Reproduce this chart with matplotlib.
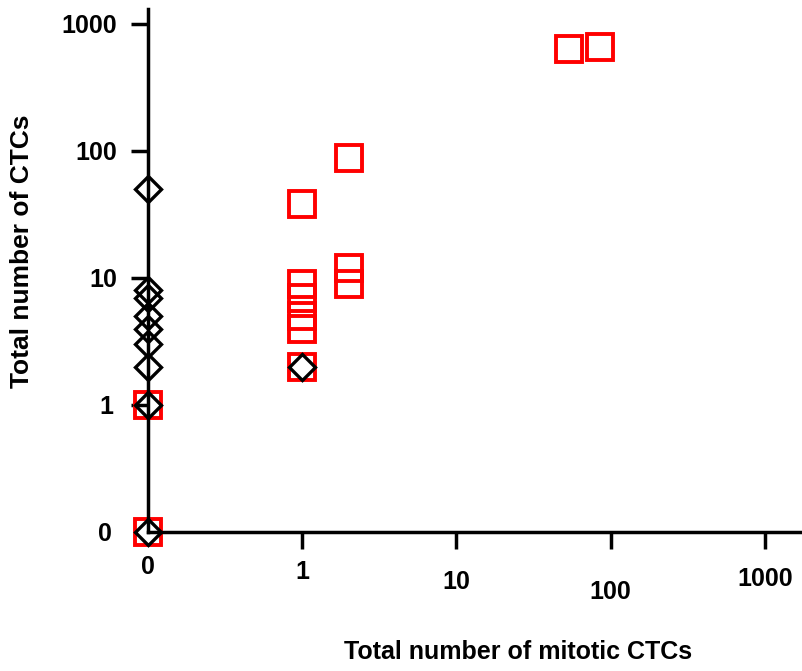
import numpy as np
import matplotlib
matplotlib.use('Agg')
import matplotlib.pyplot as plt

plt.rcParams['font.family'] = ['Liberation Sans', 'DejaVu Sans']
plt.rcParams['font.weight'] = 'bold'

# data (0 is drawn one decade below 1)
mitotic_black = [0, 0, 0, 0, 0, 0, 0, 0, 0, 1]
total_black = [50, 8, 7, 5, 4, 3, 2, 1, 0, 2]
mitotic_red = [0, 0, 1, 1, 1, 1, 1, 1, 2, 2, 2, 54, 85]
total_red = [1, 0, 38, 9, 7, 5, 4, 2, 88, 12, 9, 640, 660]

tick_vals = [0, 1, 10, 100, 1000]
tick_labels = ['0', '1', '10', '100', '1000']

def zero_to_floor(v):
    v = np.asarray(v, dtype=float)
    return np.where(v == 0, 0.1, v)

fig = plt.figure(figsize=(8.02, 6.71), dpi=100)
ax = fig.add_axes([0.1845, 0.2072, 0.8155, 0.7794])

ax.plot(zero_to_floor(mitotic_red), zero_to_floor(total_red), 's', ms=19,
        mfc='none', mec='#ff0000', mew=2.8, clip_on=False, zorder=3)
ax.plot(zero_to_floor(mitotic_black), zero_to_floor(total_black), 'D', ms=13.5,
        mfc='none', mec='black', mew=2.4, clip_on=False, zorder=4)

ax.set_xscale('log')
ax.set_yscale('log')
ax.set_xlim(0.1, 10 ** 3.24)
ax.set_ylim(0.1, 10 ** 3.118)

ax.set_xticks(zero_to_floor(tick_vals))
ax.set_xticklabels(tick_labels)
ax.set_yticks(zero_to_floor(tick_vals))
ax.set_yticklabels(tick_labels)
ax.minorticks_off()

for s in ['top', 'right']:
    ax.spines[s].set_visible(False)
for s in ['left', 'bottom']:
    ax.spines[s].set_linewidth(2.5)
    ax.spines[s].set_zorder(5)

ax.tick_params(axis='both', direction='out', length=12.2, width=2.5,
               labelsize=18)

# no tick marks at the zero positions, staggered labels like the original
xt = ax.xaxis.get_major_ticks()
xt[0].tick1line.set_visible(False)
yt = ax.yaxis.get_major_ticks()
yt[0].tick1line.set_visible(False)
x_pads = [4.5, 8, 15.5, 22.5, 13]
for t, p in zip(xt, x_pads):
    t.set_pad(p)
y_pads = [14, 13, 10, 10, 10]
for t, p in zip(yt, y_pads):
    t.set_pad(p)

fig.text(0.646, 0.028, 'Total number of mitotic CTCs', ha='center', va='center',
         fontsize=18, fontweight='bold')
fig.text(0.027, 0.626, 'Total number of CTCs', ha='center', va='center',
         rotation=90, fontsize=19, fontweight='bold')

fig.savefig('out.png', dpi=100)
